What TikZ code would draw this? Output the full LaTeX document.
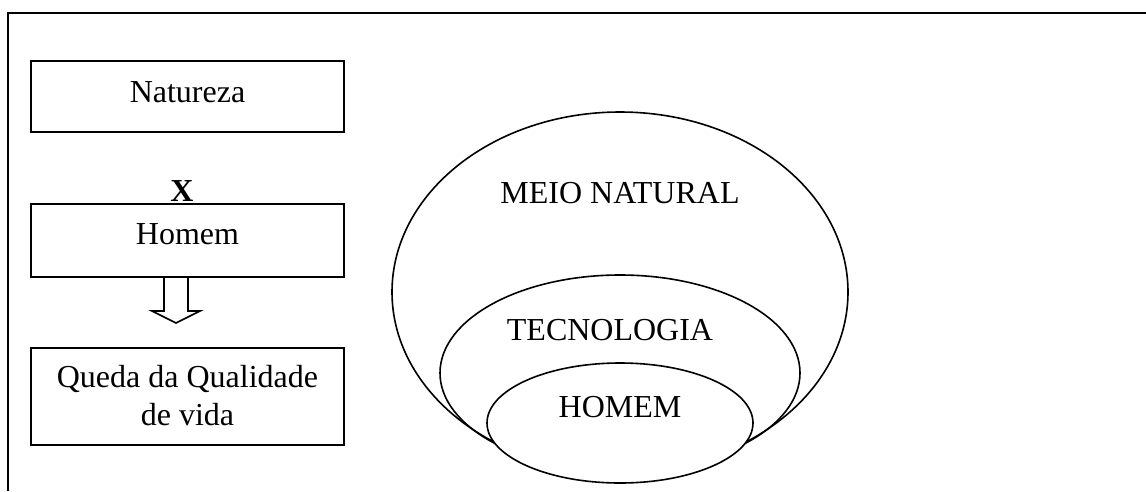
\documentclass[tikz,border=0pt]{standalone}
\usepackage{fontspec}
\setmainfont{Liberation Serif}
\usetikzlibrary{shapes.geometric,calc}
\tikzset{
  box/.style={draw, line width=1.6pt, rectangle, minimum width=313pt, inner sep=0pt, outer sep=0pt},
  txt/.style={anchor=base, inner sep=0pt, font=\fontsize{32}{38}\selectfont},
  oval/.style={draw, line width=1.6pt, ellipse, inner sep=0pt, outer sep=0pt},
  frame/.style={line width=2pt}
}
\begin{document}
\begin{tikzpicture}[x=1pt,y=-1pt]
\useasboundingbox (0,0) rectangle (1146,491);
% frame (only top and left edges visible)
\coordinate (fbl) at (7.5,491);
\coordinate (ftl) at (7.5,12.5);
\coordinate (ftr) at (1146,12.5);
\draw[frame] (fbl) -- (ftl) -- (ftr);
% left column boxes
\node[box, minimum height=71pt] (nat) at (187.5,96.5) {};
\node[txt] (natT) at (187.5,102) {Natureza};
\node[txt] (xT) at (182,201) {\textbf{X}};
\node[box, minimum height=73pt] (hom) at (187.5,240.5) {};
\node[txt] (homT) at (187.5,244) {Homem};
\node[box, minimum height=97pt] (que) at (187.5,396.5) {};
\node[txt] (queT1) at (187.5,387) {Queda da Qualidade};
\node[txt] (queT2) at (187.5,425) {de vida};
% hollow block arrow from Homem to Queda
\draw[line width=1.6pt, line join=miter]
  ($(hom.south)+(-23.5,0)$) -- ($(hom.south)+(-23.5,34)$) -- ($(hom.south)+(-35.5,34)$)
  -- ($(hom.south)+(-11.5,46)$)
  -- ($(hom.south)+(12.5,34)$) -- ($(hom.south)+(0.5,34)$) -- ($(hom.south)+(0.5,0)$);
% nested ovals
\node[oval, minimum width=456pt, minimum height=360pt] (meio) at (620,292) {};
\node[oval, minimum width=360pt, minimum height=196pt] (tec) at (620,373) {};
\node[oval, fill=white, minimum width=266pt, minimum height=120pt] (hm) at (620,423) {};
\node[txt] (meioT) at (620,203) {MEIO NATURAL};
\node[txt] (tecT) at (610,340) {TECNOLOGIA};
\node[txt] (hmT) at (620,417) {HOMEM};
\end{tikzpicture}
\end{document}
